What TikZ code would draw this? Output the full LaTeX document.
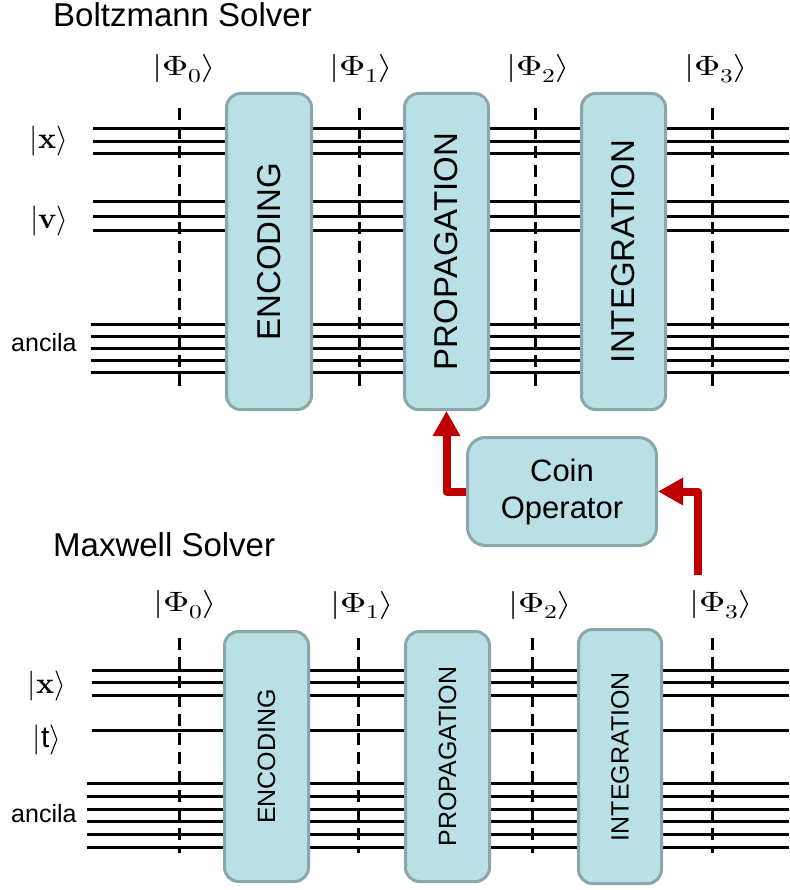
\documentclass[tikz,border=0pt]{standalone}
\usepackage{fontspec}
\usepackage{unicode-math}
\setmainfont{Liberation Sans}
\setmathfont{Latin Modern Math}
\usepackage{graphicx}
\usetikzlibrary{arrows.meta}
\definecolor{boxfill}{HTML}{B9E0E4}
\definecolor{boxedge}{HTML}{8AA8AC}
\definecolor{arrred}{HTML}{C00000}
\newcommand\ketlab[1]{\scalebox{1.3}[1]{$|#1\rangle$}}
\begin{document}
\begin{tikzpicture}[x=1pt,y=-1pt,
  wire/.style={line width=3pt,black},
  barrier/.style={line width=3pt,black,dash pattern=on 12pt off 7pt},
  gate/.style={draw=boxedge,fill=boxfill,line width=3pt,rounded corners=14pt,rotate=90,inner sep=0pt,align=center},
  bigtxt/.style={font=\fontsize{33}{36}\selectfont},
  smalltxt/.style={font=\fontsize{25}{28}\selectfont},
  ket/.style={inner sep=0pt,font=\fontsize{28}{30}\selectfont},
  qlab/.style={inner sep=0pt,font=\fontsize{30}{32}\selectfont},
  anc/.style={inner sep=0pt,anchor=base west,font=\fontsize{25}{28}\selectfont},
  title/.style={inner sep=0pt,anchor=base west,font=\fontsize{33}{38}\selectfont},
  feed/.style={draw=arrred,line width=8pt,line join=round,-{Triangle[width=26pt,length=25pt]}}]
\useasboundingbox (0,0) rectangle (789,890);
% titles
\node[title] (t1) at (53,27) {Boltzmann Solver};
\node[title] (t2) at (53,556) {Maxwell Solver};
% top wires
\foreach \y in {129,142,154,202,217,231} \draw[wire] (93,\y) -- (789,\y);
\foreach \y in {324,336,348,360,372} \draw[wire] (91,\y) -- (789,\y);
% bottom wires
\foreach \y in {670,682,695,730} \draw[wire] (92,\y) -- (789,\y);
\foreach \y in {783,796,809,821,834,847} \draw[wire] (87,\y) -- (789,\y);
% barriers
\foreach \x in {179,359,535,712} \draw[barrier] (\x,108) -- (\x,387);
\foreach \x in {179,358,532,712} \draw[barrier] (\x,638) -- (\x,853);
% top gates
\node[gate,bigtxt,minimum width=316pt,minimum height=85pt] (encT) at (269,251.5) {ENCODING};
\node[gate,bigtxt,minimum width=316pt,minimum height=84pt] (propT) at (446.5,251.5) {PROPAGATION};
\node[gate,bigtxt,minimum width=316pt,minimum height=84pt] (intT) at (623.5,251.5) {INTEGRATION};
% bottom gates
\node[gate,smalltxt,minimum width=250pt,minimum height=84pt] (encB) at (266.5,756.5) {ENCODING};
\node[gate,smalltxt,minimum width=250pt,minimum height=84pt] (propB) at (447.5,756.5) {PROPAGATION};
\node[gate,smalltxt,minimum width=254pt,minimum height=83pt] (intB) at (620,756.5) {INTEGRATION};
% coin operator
\node[draw=boxedge,fill=boxfill,line width=3pt,rounded corners=18pt,minimum width=189pt,minimum height=108pt,align=center,inner sep=0pt,font=\fontsize{31}{37}\selectfont] (coin) at (562,491.5) {Coin\\Operator};
% state labels
\node[ket] (p0T) at (184,69) {\ketlab{\Phi_0}};
\node[ket] (p1T) at (361,69) {\ketlab{\Phi_1}};
\node[ket] (p2T) at (538,69) {\ketlab{\Phi_2}};
\node[ket] (p3T) at (716,69) {\ketlab{\Phi_3}};
\node[ket] (p0B) at (185,605) {\ketlab{\Phi_0}};
\node[ket] (p1B) at (362,605) {\ketlab{\Phi_1}};
\node[ket] (p2B) at (540,605) {\ketlab{\Phi_2}};
\node[ket] (p3B) at (721,605) {\ketlab{\Phi_3}};
% register labels
\node[qlab] (xT) at (49,141) {$|\symbf{x}\rangle$};
\node[qlab] (vT) at (49.5,221) {$|\symbf{v}\rangle$};
\node[anc] (aT) at (11,351) {ancila};
\node[qlab] (xB) at (47,686) {$|\symbf{x}\rangle$};
\node[qlab] (tB) at (47,740) {$|\mathrm{t}\rangle$};
\node[anc] (aB) at (11,822) {ancila};
% feedback arrows
\coordinate (src) at (698,575);
\draw[feed] (coin.west) -| (propT.west);
\draw[feed] (src) |- (coin.east);
\end{tikzpicture}
\end{document}
